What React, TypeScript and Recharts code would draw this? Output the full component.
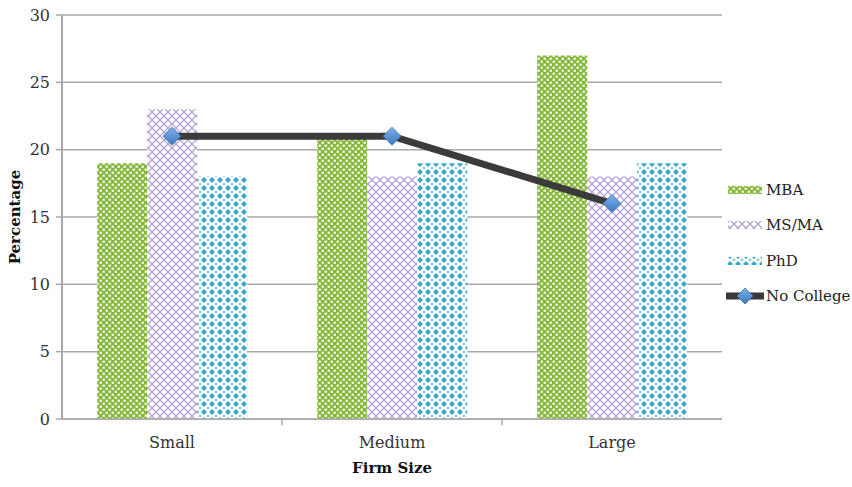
import React from 'react';
import { ComposedChart, Bar, Line, XAxis, YAxis, CartesianGrid } from 'recharts';

const categories = ['Small', 'Medium', 'Large'];
const mba = [19, 21, 27];
const msma = [23, 18, 18];
const phd = [18, 19, 19];
const noCollege = [21, 21, 16];
const yTicks = [0, 5, 10, 15, 20, 25, 30];

const data = categories.map((name, i) => ({
  name,
  MBA: mba[i],
  'MS/MA': msma[i],
  PhD: phd[i],
  'No College': noCollege[i],
}));

const FONT = '"DejaVu Serif", serif';
const GRID = '#a8a8a8';
const X_MARGIN = 18;

function Patterns() {
  return (
    <defs>
      <pattern id="pMba" width="6" height="6" patternUnits="userSpaceOnUse">
        <rect width="6" height="6" fill="#86b83c" />
        <rect x="0.6" y="0.6" width="2.2" height="2.2" fill="#fff" />
        <rect x="3.6" y="3.6" width="2.2" height="2.2" fill="#fff" />
      </pattern>
      <pattern id="pMs" width="8" height="8" patternUnits="userSpaceOnUse">
        <rect width="8" height="8" fill="#fff" />
        <path d="M0 0 L8 8 M8 0 L0 8" stroke="#b6a3d6" strokeWidth="1.3" />
      </pattern>
      <pattern id="pPhd" width="8" height="8" patternUnits="userSpaceOnUse">
        <rect width="8" height="8" fill="#fff" />
        <path d="M4 1 L7 4 L4 7 L1 4 Z" fill="#3aa8c8" />
        <circle cx="0" cy="0" r="0.9" fill="#3aa8c8" />
        <circle cx="8" cy="0" r="0.9" fill="#3aa8c8" />
        <circle cx="0" cy="8" r="0.9" fill="#3aa8c8" />
        <circle cx="8" cy="8" r="0.9" fill="#3aa8c8" />
      </pattern>
      <linearGradient id="gDia" x1="0" y1="0" x2="0" y2="1">
        <stop offset="0" stopColor="#7fb0e8" />
        <stop offset="1" stopColor="#3b78c2" />
      </linearGradient>
    </defs>
  );
}

const Diamond = (props: any) => {
  const { cx, cy } = props;
  if (cx == null || cy == null) return null;
  const r = 9;
  return (
    <path
      d={`M${cx} ${cy - r} L${cx + r} ${cy} L${cx} ${cy + r} L${cx - r} ${cy} Z`}
      fill="url(#gDia)"
      stroke="#3a6fb0"
      strokeWidth={0.8}
    />
  );
};

// category label plus the small divider tick between categories
const CatTick = (props: any) => {
  const { x, y, payload, index, visibleTicksCount, width } = props;
  const band = width / visibleTicksCount;
  const axisY = y - X_MARGIN;
  return (
    <g>
      <text x={x} y={y} dy="0.71em" textAnchor="middle" fontFamily={FONT} fontSize={16} fill="#333">
        {payload.value}
      </text>
      {index < visibleTicksCount - 1 && (
        <line x1={x + band / 2} x2={x + band / 2} y1={axisY} y2={axisY + 6} stroke={GRID} strokeWidth={1.5} />
      )}
    </g>
  );
};

const legendItems = [
  { name: 'MBA', fill: 'url(#pMba)' },
  { name: 'MS/MA', fill: 'url(#pMs)' },
  { name: 'PhD', fill: 'url(#pPhd)' },
  { name: 'No College', fill: '' },
];

function LegendBox() {
  return (
    <div style={{ position: 'absolute', left: 726, top: 172, fontFamily: FONT, fontSize: 15, color: '#222' }}>
      {legendItems.map((it) => (
        <div key={it.name} style={{ display: 'flex', alignItems: 'center', height: 35.5 }}>
          <svg width={38} height={18} style={{ marginRight: 2 }}>
            {it.fill ? (
              <rect x={2} y={5} width={34} height={8} fill={it.fill} />
            ) : (
              <g>
                <line x1={0} y1={9} x2={38} y2={9} stroke="#3b3b3b" strokeWidth={7} strokeLinecap="round" />
                <path d="M19 1 L27 9 L19 17 L11 9 Z" fill="url(#gDia)" stroke="#3a6fb0" strokeWidth={0.8} />
              </g>
            )}
          </svg>
          <span>{it.name}</span>
        </div>
      ))}
    </div>
  );
}

export default function App() {
  return (
    <div style={{ position: 'absolute', left: 0, top: 0, width: 852, height: 487, background: '#fff' }}>
      <ComposedChart
        width={852}
        height={487}
        data={data}
        margin={{ top: 15, right: 130, bottom: 8, left: 0 }}
        barCategoryGap="16%"
        barGap={0}
      >
        <Patterns />
        <CartesianGrid vertical={false} stroke={GRID} strokeWidth={1.5} />
        <XAxis
          dataKey="name"
          height={60}
          tickLine={false}
          tickSize={0}
          tickMargin={X_MARGIN}
          axisLine={{ stroke: GRID, strokeWidth: 1.5 }}
          tick={<CatTick />}
          interval={0}
          label={{
            value: 'Firm Size',
            position: 'insideBottom',
            offset: 6,
            style: { fontFamily: FONT, fontSize: 15, fontWeight: 'bold', fill: '#111' },
          }}
        />
        <YAxis
          width={62}
          domain={[0, 30]}
          ticks={yTicks}
          interval={0}
          tickSize={6}
          tickMargin={6}
          axisLine={{ stroke: GRID, strokeWidth: 2 }}
          tickLine={{ stroke: GRID, strokeWidth: 1.5 }}
          tick={{ fontFamily: FONT, fontSize: 16, fill: '#333' }}
          label={{
            value: 'Percentage',
            angle: -90,
            position: 'insideLeft',
            dx: 10,
            style: { textAnchor: 'middle', fontFamily: FONT, fontSize: 15, fontWeight: 'bold', fill: '#111' },
          }}
        />
        <Bar dataKey="MBA" fill="url(#pMba)" isAnimationActive={false} />
        <Bar dataKey="MS/MA" fill="url(#pMs)" isAnimationActive={false} />
        <Bar dataKey="PhD" fill="url(#pPhd)" isAnimationActive={false} />
        <Line
          dataKey="No College"
          type="linear"
          stroke="#3b3b3b"
          strokeWidth={7}
          dot={<Diamond />}
          activeDot={false}
          isAnimationActive={false}
        />
      </ComposedChart>
      <LegendBox />
    </div>
  );
}
